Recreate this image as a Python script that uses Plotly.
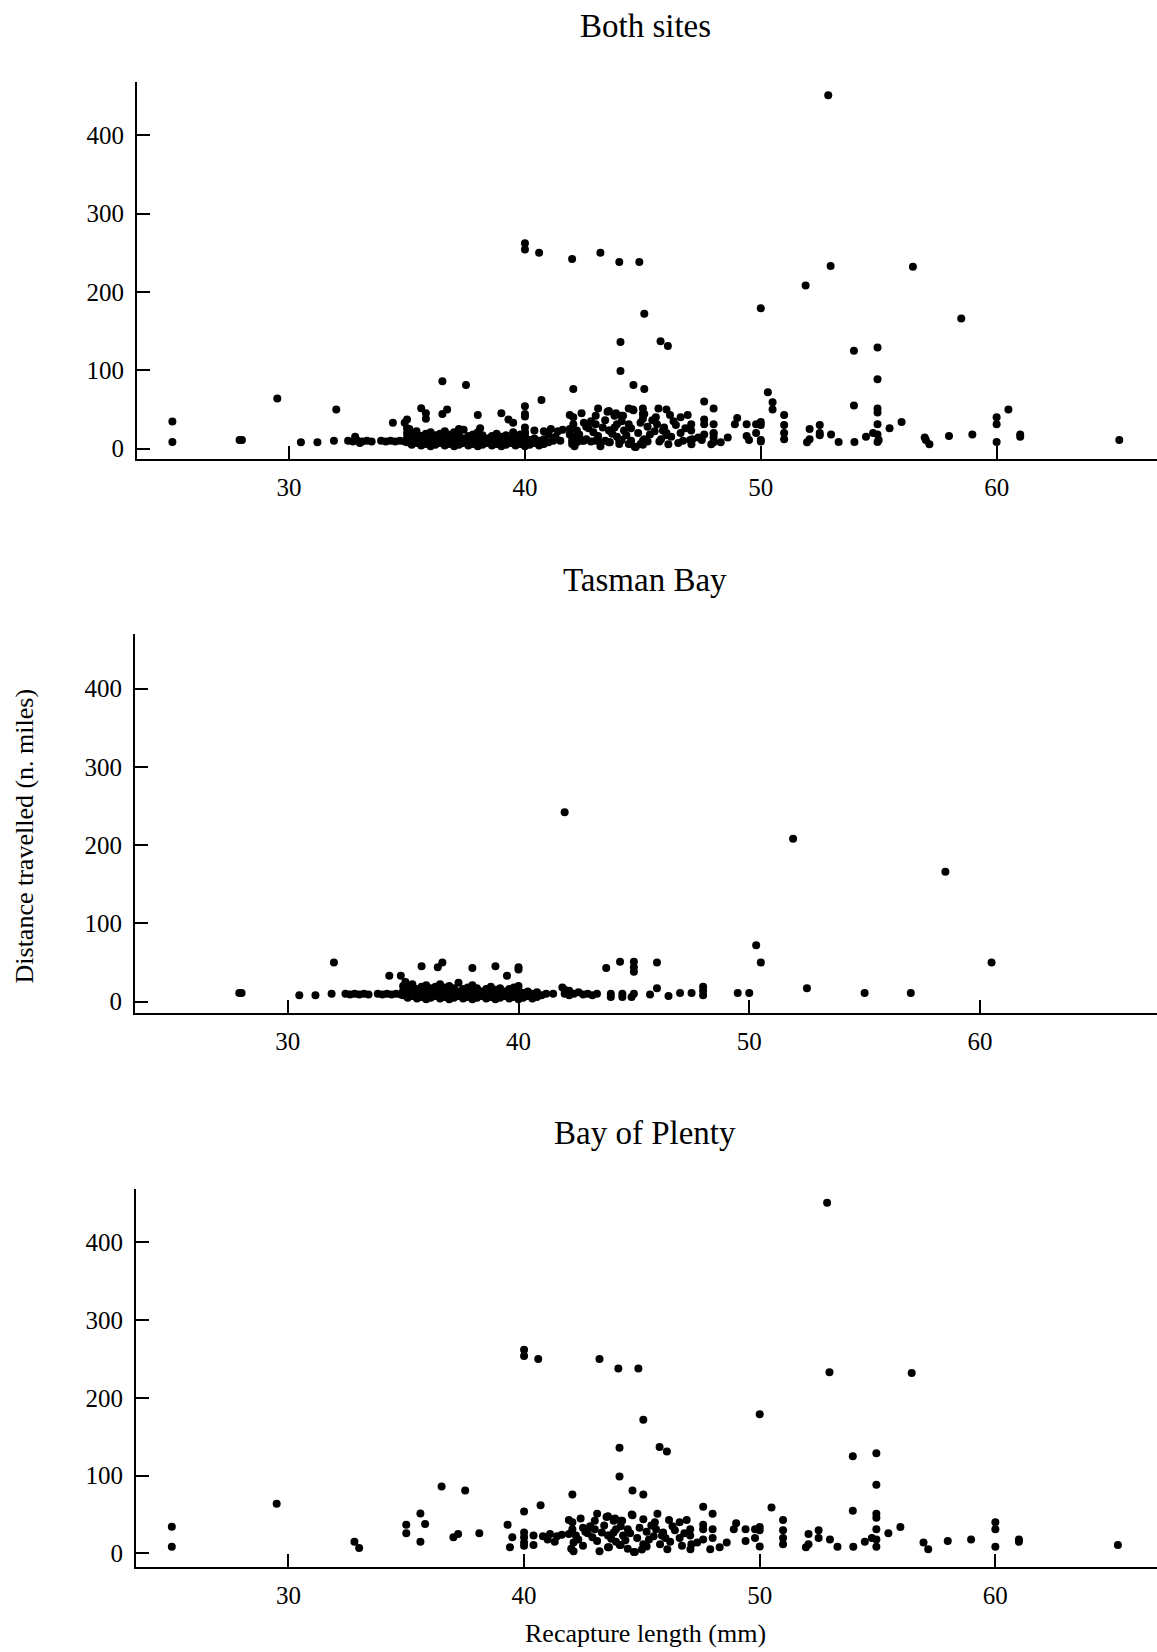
import plotly.graph_objects as go

# ---------------- data ----------------
# Tasman Bay: recapture length (mm), distance travelled (n. miles)
tasman_len = [
    28.0, 27.9, 30.5, 31.2, 31.9, 32.0, 34.4, 34.9, 35.1, 35.8, 36.5, 36.7, 38.0, 39.0, 39.5,
    40.0, 40.0, 41.5, 41.9, 42.0, 43.8, 44.4, 45.0, 45.0, 45.0, 44.0, 44.0, 44.5, 44.5, 45.0,
    44.9, 45.7, 46.0, 46.0, 46.5, 47.0, 47.5, 48.0, 48.0, 48.0, 49.5, 50.0, 50.3, 50.5, 51.9,
    52.5, 55.0, 57.0, 58.5, 60.5,
    32.5, 32.7, 32.9, 33.1, 33.3, 33.5, 33.9, 34.1, 34.3, 34.5, 34.7, 34.9,
    35.0, 35.0, 35.0, 35.2, 35.2, 35.2, 35.4, 35.4, 35.4, 35.6, 35.6, 35.6, 35.8, 35.8, 35.8,
    36.0, 36.0, 36.0, 36.0, 36.2, 36.2, 36.2, 36.4, 36.4, 36.4, 36.6, 36.6, 36.6, 36.6,
    36.8, 36.8, 36.8, 37.0, 37.0, 37.0, 37.0, 37.2, 37.2, 37.2, 37.4, 37.4, 37.4,
    37.6, 37.6, 37.6, 37.8, 37.8, 37.8, 38.0, 38.0, 38.0, 38.0, 38.2, 38.2, 38.2,
    38.4, 38.4, 38.6, 38.6, 38.6, 38.8, 38.8, 38.8, 39.0, 39.0, 39.0, 39.2, 39.2, 39.2,
    39.4, 39.4, 39.6, 39.6, 39.6, 39.8, 39.8, 39.8, 40.0, 40.0, 40.0, 40.0, 40.2, 40.2,
    40.4, 40.4, 40.6, 40.6, 40.8, 40.8, 41.0, 41.2, 42.0, 42.0, 42.2, 42.2, 42.4, 42.6,
    42.8, 43.0, 43.2, 43.4,
]
tasman_dist = [
    11, 11, 8, 8, 10, 50, 33, 33, 25, 45, 44, 50, 43, 45, 33,
    44, 41, 10, 18, 242, 43, 51, 51, 44, 38, 10, 6, 10, 6, 10,
    6, 9, 50, 17, 7, 11, 11, 19, 14, 8, 11, 11, 72, 50, 208,
    17, 11, 11, 166, 50,
    10, 9, 10, 9, 10, 9, 10, 9, 10, 9, 10, 9,
    8, 14, 20, 5, 11, 17, 7, 13, 22, 4, 10, 16, 6, 12, 19,
    3, 9, 15, 21, 5, 11, 17, 7, 13, 19, 4, 10, 16, 22,
    6, 12, 18, 3, 9, 15, 20, 5, 11, 17, 7, 13, 24,
    4, 10, 16, 6, 12, 18, 3, 9, 15, 21, 5, 11, 17,
    7, 13, 4, 10, 16, 6, 12, 19, 3, 9, 15, 5, 11, 17,
    7, 13, 4, 10, 16, 6, 12, 18, 3, 9, 15, 20, 5, 11,
    7, 13, 4, 10, 6, 12, 8, 10, 10, 15, 8, 14, 10, 12,
    9, 10, 8, 10,
]

# Bay of Plenty
plenty_len = [
    25.05, 25.05, 29.5, 32.8, 33.0, 35.0, 35.0, 35.6, 35.8, 35.6, 36.5, 37.5, 37.0, 37.2, 38.1,
    39.3, 39.4, 39.5, 40.0, 40.0, 40.6, 40.0, 40.0, 40.0, 40.0, 40.0, 40.7, 40.4, 40.4, 40.8,
    41.1, 41.4, 41.6, 41.9, 42.05, 41.9, 42.05, 42.4, 42.05, 42.2, 42.1, 42.1, 42.0, 42.5, 42.7,
    43.2, 44.0, 44.85, 44.05, 44.05, 44.6, 43.1, 43.0, 43.5, 43.8, 44.1, 44.6, 43.0, 42.9, 43.1,
    43.2, 43.6, 43.6, 43.8, 44.1, 44.1, 44.2, 44.4, 44.7,
    52.86, 52.96, 56.45, 50.0, 53.95, 54.95, 54.95, 53.95, 54.95, 54.95, 54.95, 54.95, 54.95,
    54.76, 54.46, 55.46, 55.97, 56.95, 57.15, 57.98, 58.97, 60.0, 60.0, 60.0, 61.0, 61.0, 65.2,
    53.97, 53.3, 52.98, 52.5, 52.5, 52.07, 52.07, 51.96, 50.99, 50.99, 50.99, 50.99, 50.5,
    50.0, 50.0, 50.0, 49.8, 49.8, 49.4, 49.4, 49.0, 48.9, 48.6, 48.3, 48.0, 48.0, 48.0, 47.9,
    47.6, 47.6, 47.6, 47.6, 47.35, 47.1, 47.06, 47.05, 47.05, 46.9, 46.6, 46.4, 46.15, 46.06,
    45.75, 46.08, 45.77, 45.85, 46.0, 45.66, 45.55, 45.6, 45.06, 45.06, 45.06, 45.06, 44.57,
    44.66, 44.16, 43.86, 43.56, 43.56, 43.56, 44.06,
    42.3, 42.6, 42.8, 43.3, 43.4, 43.7, 43.9, 44.3, 44.5, 44.8, 44.9, 45.2, 45.3, 45.4, 45.5,
    45.9, 46.2, 46.3, 46.6, 46.7, 46.8, 44.4, 45.0, 45.2, 43.9, 42.5, 41.0, 41.3,
]
plenty_dist = [
    34.5, 8.5, 64, 15, 7, 37, 26, 51.5, 38, 15, 86, 81, 21, 25, 26,
    37, 8, 21, 262, 254, 250, 54, 27, 21, 14, 10, 62, 23, 11, 22,
    25, 22, 24, 25, 76, 43, 40, 45, 31, 23, 14, 3, 6, 33, 26,
    250, 238, 238, 136, 99, 81, 51, 42, 47, 42, 42, 49, 31, 21, 16,
    3, 8, 23, 27, 35, 11, 23, 31, 2,
    451, 233, 232, 179, 125, 129, 88.5, 55, 51, 46, 31, 18, 8.5,
    20, 15, 26, 34, 14, 5.5, 16, 18, 40, 31, 8.5, 18, 15, 11,
    8.5, 8.5, 18, 30, 20, 25, 12, 8, 43, 30, 20, 12, 59,
    34, 30, 9, 31, 20, 31, 16, 39, 31, 14, 8, 51, 31, 20, 5.5,
    60, 37, 31, 18, 14, 12, 5.5, 31, 23, 43, 40, 30, 43, 131,
    137, 5.5, 12, 23, 20, 51, 40, 31, 76, 172, 44, 12, 50,
    2, 42, 45, 48, 23, 8, 11,
    18, 28, 35, 27, 36, 19, 31, 17, 26, 20, 33, 28, 18, 36, 22,
    27, 15, 35, 20, 10, 26, 6, 5, 9, 15, 10, 18, 15,
]

# Both sites = union of the two sites
both_len = tasman_len + plenty_len
both_dist = tasman_dist + plenty_dist

panel_titles = ["Both sites", "Tasman Bay", "Bay of Plenty"]
x_ticks = [30, 40, 50, 60]
y_ticks = [0, 100, 200, 300, 400]
x_title = "Recapture length (mm)"
y_title = "Distance travelled (n. miles)"

# ---------------- layout helpers ----------------
W, H = 1157, 1652
FONT = "Liberation Serif, Times New Roman, serif"


def px_x(p):
    return p / W


def px_y(p):
    return 1 - p / H


panels = [
    # (x data, y data, top px, bottom px, left px, xrange, yrange)
    (both_len, both_dist, 82, 460, 137, [23.55, 66.8], [-13.5, 468]),
    (tasman_len, tasman_dist, 635, 1015, 135, [23.38, 67.67], [-14.8, 470]),
    (plenty_len, plenty_dist, 1191, 1570, 136, [23.53, 66.86], [-17.6, 469]),
]
title_y = [26, 581, 1135]

fig = go.Figure()
layout = dict(
    width=W, height=H,
    margin=dict(l=0, r=0, t=0, b=0),
    paper_bgcolor="white", plot_bgcolor="white",
    showlegend=False,
    font=dict(family=FONT, color="black", size=25),
)
annotations = []
for i, (xs, ys, top, bot, left, xr, yr) in enumerate(panels):
    n = "" if i == 0 else str(i + 1)
    fig.add_trace(go.Scatter(
        x=xs, y=ys, mode="markers",
        marker=dict(color="black", size=8, line=dict(width=0)),
        xaxis="x" + n, yaxis="y" + n, cliponaxis=False,
    ))
    layout["xaxis" + n] = dict(
        domain=[px_x(left), 1.0], range=xr, anchor="y" + n,
        showline=True, linecolor="black", linewidth=2,
        ticks="inside", ticklen=13, tickwidth=1.5, tickcolor="black",
        tickvals=x_ticks, showgrid=False, zeroline=False,
        tickfont=dict(family=FONT, size=25, color="black"),
        ticklabelstandoff=5,
    )
    layout["yaxis" + n] = dict(
        domain=[px_y(bot), px_y(top)], range=yr, anchor="x" + n,
        showline=True, linecolor="black", linewidth=2,
        ticks="inside", ticklen=13, tickwidth=1.5, tickcolor="black",
        tickvals=y_ticks, showgrid=False, zeroline=False,
        tickfont=dict(family=FONT, size=25, color="black"),
        ticklabelstandoff=6,
    )
    annotations.append(dict(
        text=panel_titles[i], x=px_x(645), y=px_y(title_y[i]),
        xref="paper", yref="paper", xanchor="center", yanchor="middle",
        showarrow=False, font=dict(family=FONT, size=33, color="black"),
    ))

annotations.append(dict(
    text=x_title, x=px_x(645), y=px_y(1636),
    xref="paper", yref="paper", xanchor="center", yanchor="middle",
    showarrow=False, font=dict(family=FONT, size=26, color="black"),
))
annotations.append(dict(
    text=y_title, x=px_x(24), y=px_y(838), textangle=-90,
    xref="paper", yref="paper", xanchor="center", yanchor="middle",
    showarrow=False, font=dict(family=FONT, size=26, color="black"),
))
layout["annotations"] = annotations
fig.update_layout(**layout)

fig.write_html("out.html")
